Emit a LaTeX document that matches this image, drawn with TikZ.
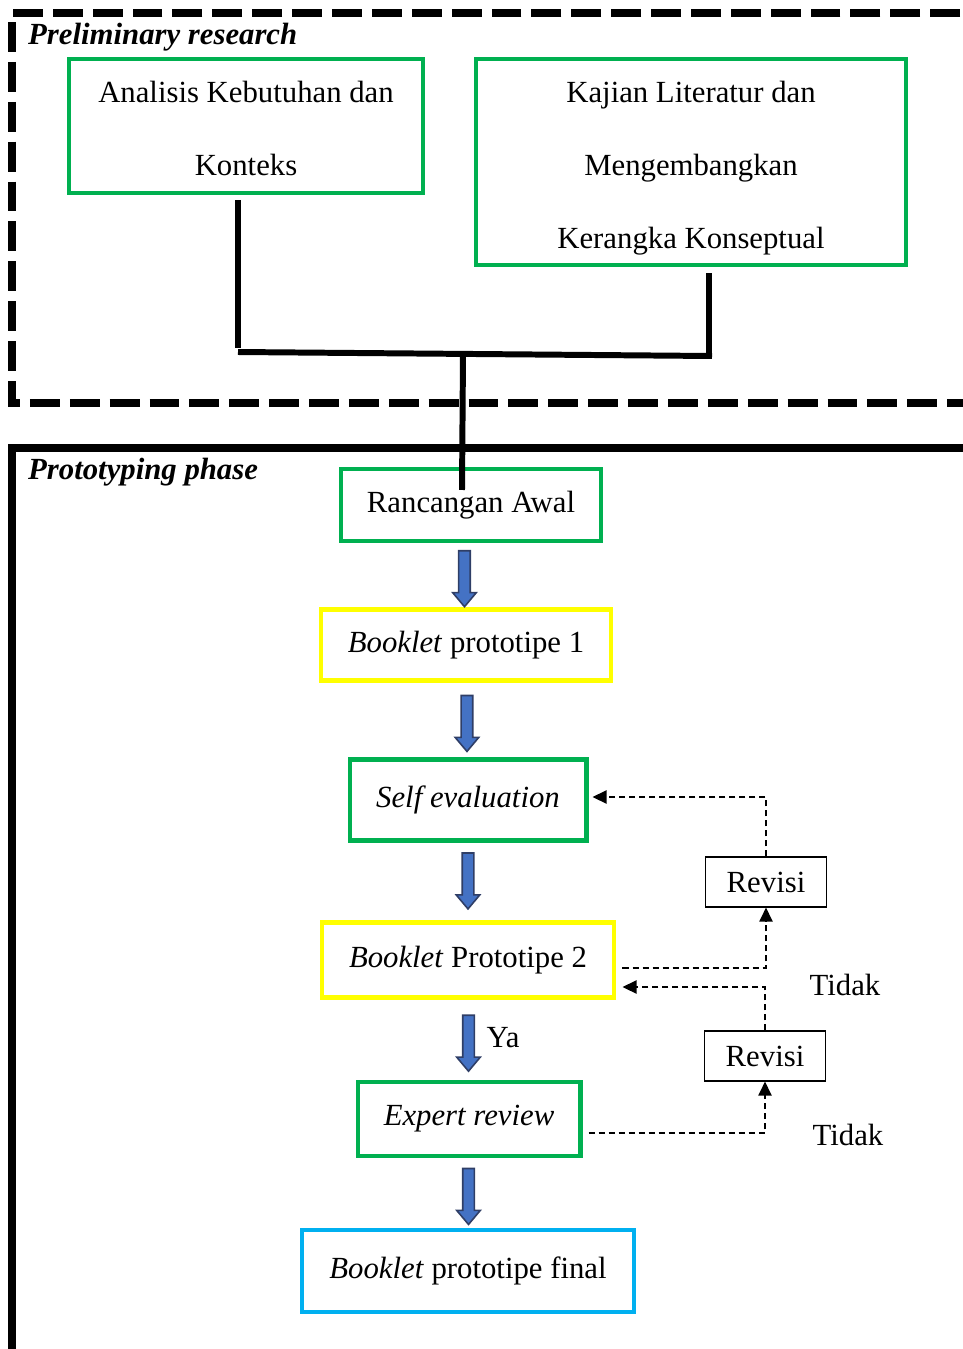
\documentclass[tikz,border=0pt]{standalone}
\usepackage{fontspec}
\setmainfont{Liberation Serif}
\usetikzlibrary{shapes.arrows,arrows.meta,calc}
\definecolor{boxgreen}{HTML}{00B050}
\definecolor{boxyellow}{HTML}{FFFF00}
\definecolor{boxblue}{HTML}{00B0F0}
\definecolor{arrowfill}{HTML}{4472C4}
\definecolor{arrowedge}{HTML}{2F3E66}
\begin{document}
\begin{tikzpicture}[x=0.02cm,y=-0.02cm,
    every node/.style={font=\fontsize{17.5}{41.5}\selectfont},
    stagebox/.style={line width=2.3pt,align=center,inner sep=0pt},
    greenbox/.style={stagebox,draw=boxgreen},
    yellowbox/.style={stagebox,draw=boxyellow},
    bluebox/.style={stagebox,draw=boxblue},
    revbox/.style={draw,line width=0.6pt,minimum width=2.42cm,minimum height=1cm,inner sep=0pt},
    fatarrow/.style={single arrow,draw=arrowedge,fill=arrowfill,line width=0.9pt,
      rotate=-90,minimum height=1.12cm,inner sep=0.1cm,
      single arrow head extend=0.12cm,single arrow tip angle=80},
    treeline/.style={line width=3.4pt},
    revline/.style={dashed,line width=0.9pt,dash pattern=on 3.5pt off 2.2pt,
      -{Triangle[length=8pt,width=7.5pt]}}]
  \clip (0,0) rectangle (963,1349);
  % Frames
  \draw[line width=4pt,dash pattern=on 17pt off 5.7pt] (1000,13) -- (12,13) -- (12,403) -- (1000,403);
  \node[anchor=west] at (22,37) {\bfseries\itshape Preliminary research};
  \draw[line width=4.6pt] (1000,448) -- (12,448) -- (12,1400);
  \node[anchor=west] at (22,472) {\bfseries\itshape Prototyping phase};
  % Preliminary research
  \node[greenbox,minimum width=7.08cm,minimum height=2.68cm] (analisis) at (246,126)
    {\rule{0pt}{0.54cm}Analisis Kebutuhan dan\\Konteks};
  \node[greenbox,minimum width=8.6cm,minimum height=4.12cm] (kajian) at (691,162)
    {\rule{0pt}{0.66cm}Kajian Literatur dan\\Mengembangkan\\Kerangka Konseptual};
  % Prototyping phase
  \node[greenbox,minimum width=5.2cm,minimum height=1.44cm] (rancangan) at (471,505) {Rancangan Awal};
  \node[yellowbox,minimum width=5.82cm,minimum height=1.42cm] (proto1) at (466,645) {\textit{Booklet} prototipe 1};
  \node[greenbox,minimum width=4.74cm,minimum height=1.62cm] (selfeval) at (468,800) {\textit{Self evaluation}};
  \node[yellowbox,minimum width=5.86cm,minimum height=1.5cm] (proto2) at (468,960) {\textit{Booklet} Prototipe 2};
  \node[greenbox,minimum width=4.46cm,minimum height=1.48cm] (expert) at (469,1119) {\textit{Expert review}};
  \node[bluebox,minimum width=6.66cm,minimum height=1.64cm] (final) at (468,1271) {\textit{Booklet} prototipe final};
  \node[revbox] (revisi1) at (766,882) {Revisi};
  \node[revbox] (revisi2) at (765,1056) {Revisi};
  % Joining lines
  \coordinate (hleft) at (238,352);
  \coordinate (hright) at (712,356);
  \coordinate (hmid) at (463,354);
  \draw[treeline] ($(analisis.south)+(-8,5)$) -- (hleft |- 0,348);
  \draw[treeline] ($(kajian.south)+(18,6)$) -- ++(0,81);
  \draw[treeline] (hleft) -- (hright);
  \draw[treeline] (hmid) -- ($(rancangan.north)+(-9,23)$);
  % Main flow
  \path (rancangan) -- (proto1) node[midway,xshift=-0.08cm,fatarrow] {};
  \path (proto1) -- (selfeval) node[midway,fatarrow] {};
  \path (selfeval) -- (proto2) node[midway,yshift=0.08cm,fatarrow] {};
  \path (proto2) -- (expert) node[midway,fatarrow] (ya) {};
  \path (expert) -- (final) node[midway,fatarrow] {};
  \node[anchor=west] at ($(ya)+(12,-2)$) {Ya};
  % Revision loops
  \draw[revline] ($(proto2.east)+(6,8)$) -| (revisi1.south);
  \draw[revline] (revisi1.north) |- ($(selfeval.east)+(4,-3)$);
  \draw[revline] ($(expert.east)+(6,14)$) -| (revisi2.south);
  \draw[revline] (revisi2.north) |- ($(proto2.east)+(6,27)$);
  \node at (845,985) {Tidak};
  \node at (848,1135) {Tidak};
\end{tikzpicture}
\end{document}
